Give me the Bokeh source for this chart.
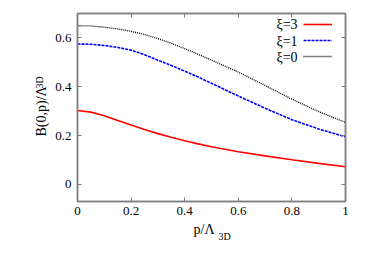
from bokeh.plotting import figure
from bokeh.models import (FixedTicker, Range1d, LinearAxis, Label, Legend, LegendItem, Title)
from bokeh.embed import file_html
from bokeh.resources import INLINE

# data
p_vals = [0.0, 0.05, 0.1, 0.15, 0.2, 0.25, 0.3, 0.35, 0.4, 0.45, 0.5, 0.6, 0.7, 0.8, 0.9, 1.0]
b_xi3 = [0.303, 0.296, 0.281, 0.262, 0.243, 0.225, 0.208, 0.193, 0.179, 0.166, 0.154, 0.134, 0.117, 0.101, 0.086, 0.072]
b_xi1 = [0.575, 0.574, 0.569, 0.561, 0.550, 0.531, 0.509, 0.487, 0.464, 0.440, 0.414, 0.362, 0.312, 0.265, 0.227, 0.195]
b_xi0 = [0.650, 0.649, 0.644, 0.637, 0.627, 0.614, 0.597, 0.578, 0.556, 0.533, 0.509, 0.460, 0.405, 0.349, 0.298, 0.254]
series_names = ["ξ=3", "ξ=1", "ξ=0"]
x_ticks = [0, 0.2, 0.4, 0.6, 0.8, 1]
x_tick_labels = ["0", "0.2", "0.4", "0.6", "0.8", "1"]
y_ticks = [0, 0.2, 0.4, 0.6]
y_tick_labels = ["0", "0.2", "0.4", "0.6"]
x_title, x_title_sub = "p/Λ", "3D"
y_title, y_title_sub = "B(0,p)/Λ", "3D"

FONT = "'Liberation Serif'"
GRAY = "#808080"

p = figure(width=360, height=255, output_backend="svg", toolbar_location=None,
           x_range=Range1d(0, 1), y_range=Range1d(-0.07, 0.70),
           min_border_left=77, min_border_right=15, min_border_top=13, min_border_bottom=54)
p.xgrid.visible = False
p.ygrid.visible = False
p.outline_line_color = GRAY
p.outline_line_width = 1.5

def style_axis(ax, ticks, labels, show_labels):
    ax.ticker = FixedTicker(ticks=ticks)
    ax.major_label_overrides = {t: l for t, l in zip(ticks, labels)}
    ax.axis_line_color = GRAY
    ax.axis_line_width = 1.5
    ax.major_tick_line_color = GRAY
    ax.major_tick_line_width = 1
    ax.major_tick_in = 4
    ax.major_tick_out = 0
    ax.minor_tick_line_color = None
    ax.major_label_text_font = FONT
    ax.major_label_text_color = "black"
    ax.major_label_text_font_size = "13px"
    if not show_labels:
        ax.major_label_text_color = None
        ax.major_label_standoff = 0

style_axis(p.xaxis[0], x_ticks, x_tick_labels, True)
style_axis(p.yaxis[0], y_ticks, y_tick_labels, True)
p.xaxis[0].major_label_standoff = 5
p.yaxis[0].major_label_standoff = 6

ax_top = LinearAxis()
style_axis(ax_top, x_ticks, x_tick_labels, False)
p.add_layout(ax_top, "above")
ax_right = LinearAxis()
style_axis(ax_right, y_ticks, y_tick_labels, False)
p.add_layout(ax_right, "right")

def title_part(text, size, offset, standoff, valign="bottom"):
    return Title(text=text, align="left", offset=offset, standoff=standoff,
                 vertical_align=valign,
                 text_font=FONT, text_font_size=size, text_font_style="normal",
                 text_color="black")

# axis titles with subscripts
p.add_layout(title_part(x_title, "14px", 116, 4), "below")
p.add_layout(title_part(x_title_sub, "10px", 141, -16, "top"), "below")
p.add_layout(title_part(y_title, "14px", 65, 8), "left")
p.add_layout(title_part(y_title_sub, "10px", 113, -34), "left")

r3 = p.line(p_vals, b_xi3, line_color="#ff0000", line_width=1.6)
r1 = p.line(p_vals, b_xi1, line_color="#0000ff", line_width=1.6, line_dash="3 1")
r0 = p.line(p_vals, b_xi0, line_color="black", line_width=1.3, line_dash="1 1")

legend = Legend(items=[LegendItem(label=" ", renderers=[r]) for r in (r3, r1, r0)],
                location=(226, 137), padding=0, margin=0, spacing=0,
                glyph_width=29, glyph_height=16, label_height=16, label_width=0,
                label_standoff=0, label_text_color=None,
                border_line_color=None, background_fill_alpha=0)
p.add_layout(legend, "center")

leg_y = [0.655, 0.585, 0.520]
for name, yy in zip(series_names, leg_y):
    p.add_layout(Label(x=0.821, y=yy, text=name, text_align="right", text_baseline="middle",
                       text_font=FONT, text_font_size="14px", text_color="black"))

open("out.html", "w").write(file_html(p, INLINE))
